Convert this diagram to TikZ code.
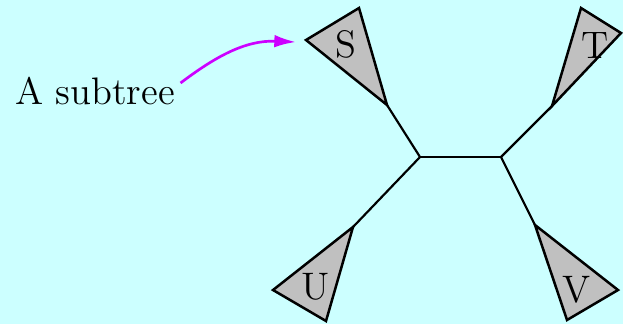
\documentclass[tikz,border=0pt]{standalone}
\usetikzlibrary{arrows.meta}
\definecolor{bgcyan}{RGB}{204,255,255}
\definecolor{subgray}{RGB}{192,192,192}
\definecolor{arrmag}{RGB}{204,0,255}
\begin{document}
\begin{tikzpicture}[x=0.3pt,y=-0.3pt,
  edge/.style={line width=0.65pt},
  subtri/.style={fill=subgray,draw=black,line width=0.75pt,line join=miter},
  lab/.style={font=\fontsize{11.5}{13}\selectfont,inner sep=0pt},
  pointer/.style={draw=arrmag,line width=0.8pt,-{Latex[length=6.5pt,width=3.8pt]}}]
\fill[bgcyan] (0,0) rectangle (623,324);
\useasboundingbox (0,0) rectangle (623,324);
% internal nodes
\coordinate (c1) at (420,157);
\coordinate (c2) at (501,157);
% subtree roots
\coordinate (sr) at (387,105);
\coordinate (tr) at (552,106);
\coordinate (ur) at (353,227);
\coordinate (vr) at (535,225);
% edges
\draw[edge] (c1) -- (c2);
\draw[edge] (c1) -- (sr);
\draw[edge] (c2) -- (tr);
\draw[edge] (c1) -- (ur);
\draw[edge] (c2) -- (vr);
% subtrees
\draw[subtri] (sr) -- (306,40) -- (359,8) -- cycle;
\draw[subtri] (tr) -- (581,8) -- (621,33) -- cycle;
\draw[subtri] (ur) -- (273,290) -- (326,321) -- cycle;
\draw[subtri] (vr) -- (618,290) -- (567,320) -- cycle;
% labels
\node[lab] (S) at (346,44) {S};
\node[lab] (T) at (595,45) {T};
\node[lab] (U) at (316,287) {U};
\node[lab] (V) at (577,290) {V};
\node[lab,anchor=base] (sub) at (95,104) {A subtree};
\coordinate (tip) at (296,42);
\draw[pointer] (sub.east |- 0,83) ++(5,0) coordinate (st) .. controls (215,57) and (245,40) .. (tip);
\end{tikzpicture}
\end{document}
